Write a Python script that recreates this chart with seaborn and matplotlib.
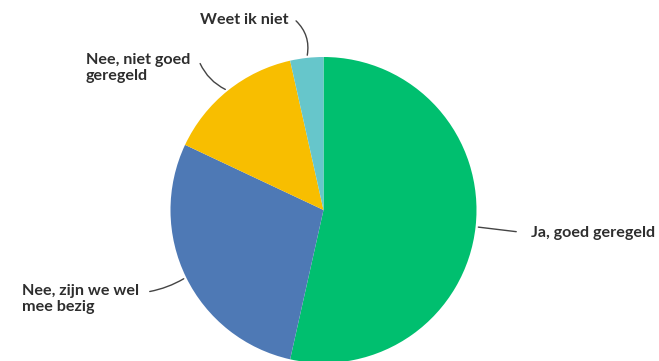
import numpy as np
import matplotlib
matplotlib.use("Agg")
import matplotlib.pyplot as plt
import seaborn as sns

categories = ["Ja, goed geregeld", "Nee, zijn we wel\nmee bezig", "Nee, niet goed\ngeregeld", "Weet ik niet"]
values = [53.5, 28.5, 14.5, 3.5]
colors = ["#00BF6F", "#4E79B5", "#F8BE00", "#66C6CB"]

sns.set_theme(style="white")
plt.rcParams["font.family"] = ["Lato", "DejaVu Sans"]

W, H = 659, 361
fig = plt.figure(figsize=(W / 100, H / 100), dpi=100)
ax = fig.add_axes([0, 0, 1, 1])

cx, cy, r = 323.5, H - 210, 153
pal = sns.color_palette(colors)
wedges, _ = ax.pie(values, colors=pal, startangle=90, counterclock=False,
                   center=(cx, cy), radius=r, frame=True,
                   wedgeprops=dict(linewidth=0))
ax.set_xlim(0, W)
ax.set_ylim(0, H)
ax.set_axis_off()

# label layout: (text x, first-line centre y from top, ha, line start x, line start y, rad)
layout = [
    (531, 233, "left", 519, 232, 0.0),
    (22, 293, "left", 147, 292, 0.1),
    (86, 62, "left", 199, 61, 0.2),
    (289, 20, "right", 294, 19, -0.3),
]

FS = 11.6
for w, lab, (tx, ty, ha, lx, ly, rad) in zip(wedges, categories, layout):
    ang = np.deg2rad((w.theta1 + w.theta2) / 2)
    ex = cx + r * np.cos(ang)
    ey = cy + r * np.sin(ang)
    if "\n" in lab:
        ax.text(tx, H - ty + 9, lab, ha=ha, va="top", fontsize=FS,
                fontweight="bold", color="#2E2E2E", linespacing=1.15)
    else:
        ax.text(tx, H - ty, lab, ha=ha, va="center", fontsize=FS,
                fontweight="bold", color="#2E2E2E")
    ax.annotate("", xy=(ex, ey), xytext=(lx, H - ly),
                arrowprops=dict(arrowstyle="-", color="#444444", lw=1.0,
                                connectionstyle=f"arc3,rad={rad}"))

fig.savefig("out.png", dpi=100)
